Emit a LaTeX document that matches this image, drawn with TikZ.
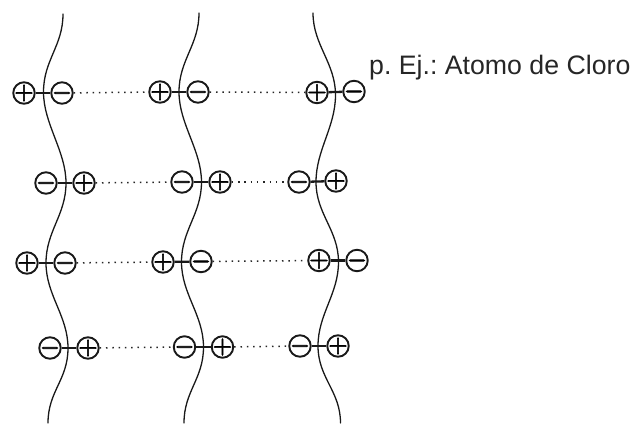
\documentclass[tikz,border=0pt]{standalone}
\usepackage{fix-cm}
\usepackage[no-math]{fontspec}
\setmainfont{Liberation Sans}
\frenchspacing
\newcommand{\heavy}[1]{\special{pdf:literal 2 Tr 0.7 w}#1\special{pdf:literal 0 Tr}}
\tikzset{
  atom/.style={circle,draw=black!90,line width=1.9pt,minimum size=21.5pt,inner sep=-3pt,font=\fontsize{22}{22}\selectfont\boldmath},
  bond/.style={black!90,line width=2.3pt},
  weak/.style={black!85,line width=1.5pt,dash pattern=on 1.5pt off 4.8pt},
  wave/.style={black!90,line width=1.3pt,line cap=round},
  label/.style={inner sep=0pt,anchor=base west,text=black!85,font=\fontsize{26.7}{30}\selectfont}
}
\begin{document}
\begin{tikzpicture}[x=1pt,y=-1pt]
\useasboundingbox (0,0) rectangle (637,423);
% wave points
\coordinate (w1a) at (63,14);
\coordinate (w1b) at (43.5,92);
\coordinate (w1c) at (66,183);
\coordinate (w1d) at (46,263);
\coordinate (w1e) at (68,348);
\coordinate (w1f) at (48,423);
\coordinate (w2a) at (199,13);
\coordinate (w2b) at (179,92);
\coordinate (w2c) at (201.5,182);
\coordinate (w2d) at (181.5,262);
\coordinate (w2e) at (203.5,347);
\coordinate (w2f) at (184,423);
\coordinate (w3a) at (313,13);
\coordinate (w3b) at (335.5,95);
\coordinate (w3c) at (316,182);
\coordinate (w3d) at (338.5,262);
\coordinate (w3e) at (318,346);
\coordinate (w3f) at (340.5,423);
\draw[wave] (w1a) .. controls +(0,32) and +(0,-32) .. (w1b) .. controls +(0,32) and +(0,-32) .. (w1c) .. controls +(0,32) and +(0,-32) .. (w1d) .. controls +(0,32) and +(0,-32) .. (w1e) .. controls +(0,32) and +(0,-32) .. (w1f);
\draw[wave] (w2a) .. controls +(0,32) and +(0,-32) .. (w2b) .. controls +(0,32) and +(0,-32) .. (w2c) .. controls +(0,32) and +(0,-32) .. (w2d) .. controls +(0,32) and +(0,-32) .. (w2e) .. controls +(0,32) and +(0,-32) .. (w2f);
\draw[wave] (w3a) .. controls +(0,32) and +(0,-32) .. (w3b) .. controls +(0,32) and +(0,-32) .. (w3c) .. controls +(0,32) and +(0,-32) .. (w3d) .. controls +(0,32) and +(0,-32) .. (w3e) .. controls +(0,32) and +(0,-32) .. (w3f);
% row 1
\node[atom] (a11) at (24,93) {\heavy{$+$}};
\node[atom] (b11) at (62,93) {\heavy{$-$}};
\node[atom] (a12) at (160,92) {\heavy{$+$}};
\node[atom] (b12) at (198,92) {\heavy{$-$}};
\node[atom] (a13) at (317,92.5) {\heavy{$+$}};
\node[atom] (b13) at (354,91.5) {\heavy{$-$}};
% row 2
\node[atom] (a21) at (46,183) {\heavy{$-$}};
\node[atom] (b21) at (84,183) {\heavy{$+$}};
\node[atom] (a22) at (182,182) {\heavy{$-$}};
\node[atom] (b22) at (220,182) {\heavy{$+$}};
\node[atom] (a23) at (299,182) {\heavy{$-$}};
\node[atom] (b23) at (336,181) {\heavy{$+$}};
% row 3
\node[atom] (a31) at (27,263) {\heavy{$+$}};
\node[atom] (b31) at (65,263) {\heavy{$-$}};
\node[atom] (a32) at (163,262) {\heavy{$+$}};
\node[atom] (b32) at (201,261.5) {\heavy{$-$}};
\node[atom] (a33) at (319,260.5) {\heavy{$+$}};
\node[atom] (b33) at (357,260.5) {\heavy{$-$}};
% row 4
\node[atom] (a41) at (50,348) {\heavy{$-$}};
\node[atom] (b41) at (88,348) {\heavy{$+$}};
\node[atom] (a42) at (184.5,347) {\heavy{$-$}};
\node[atom] (b42) at (222.5,347) {\heavy{$+$}};
\node[atom] (a43) at (300,346) {\heavy{$-$}};
\node[atom] (b43) at (338,346) {\heavy{$+$}};
% connectors
\foreach \r in {1,2,3,4}{
  \foreach \c in {1,2,3}{\draw[bond] (a\r\c) -- (b\r\c);}
  \draw[weak] (b\r1) -- (a\r2);
  \draw[weak] (b\r2) -- (a\r3);
}
\node[label] (txt) at (369,74) {p. Ej.: Atomo de Cloro};
\end{tikzpicture}
\end{document}
